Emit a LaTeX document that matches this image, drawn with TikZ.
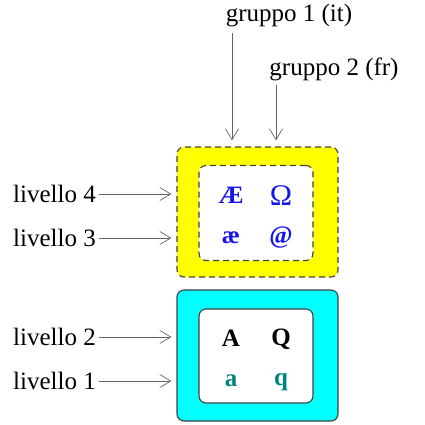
\documentclass[tikz,border=0pt]{standalone}
\usepackage{fontspec}
\setmainfont{Liberation Serif}
\usetikzlibrary{arrows.meta}
\definecolor{myblue}{RGB}{20,20,240}
\definecolor{myteal}{RGB}{0,130,130}
\definecolor{mycyan}{RGB}{0,255,255}
\definecolor{myyellow}{RGB}{255,255,0}
\definecolor{linegray}{RGB}{100,100,100}
\begin{document}
\begin{tikzpicture}[x=1pt,y=-1pt,
  lbl/.style={inner sep=0pt,font=\fontsize{25}{30}\selectfont},
  glyph/.style={inner sep=0pt,font=\fontsize{25}{30}\selectfont\bfseries},
  outerbox/.style={draw=black!75,line width=1.1pt,rounded corners=7pt,minimum width=161pt,minimum height=130pt,inner sep=0pt},
  innerbox/.style={draw=black!75,line width=1.1pt,fill=white,rounded corners=7pt,minimum width=114pt,minimum height=95pt,inner sep=0pt},
  dashbox/.style={dash pattern=on 6pt off 4pt},
  pointer/.style={draw=linegray,line width=0.7pt,-{Straight Barb[length=11pt,width=13pt,line width=0.7pt]}}
]
\useasboundingbox (0,0) rectangle (425,424);
% boxes
\node[outerbox,dashbox,fill=myyellow] (yo) at (257.5,212) {};
\node[innerbox,dashbox] (yi) at (256,213) {};
\node[outerbox,fill=mycyan,minimum height=131pt] (co) at (257.5,355.5) {};
\node[innerbox,minimum height=94pt] (ci) at (256,356) {};
% glyphs
\node[glyph,text=myblue] (AE) at (231,195) {Æ};
\node[lbl,text=myblue,font=\fontsize{30}{32}\selectfont] (Om) at (281,196) {Ω};
\node[glyph,text=myblue] (ae) at (231,238) {æ};
\node[glyph,text=myblue] (at) at (281,238) {@};
\node[glyph] (A) at (231,338) {A};
\node[glyph] (Q) at (281,339) {Q};
\node[glyph,text=myteal] (a) at (231,381) {a};
\node[glyph,text=myteal] (q) at (281,382) {q};
% labels
\node[lbl,anchor=east] (l4) at (96,194) {livello 4};
\node[lbl,anchor=east] (l3) at (96,238) {livello 3};
\node[lbl,anchor=east] (l2) at (96,337) {livello 2};
\node[lbl,anchor=east] (l1) at (96,381) {livello 1};
\node[lbl] (g1) at (289,16) {gruppo 1 (it)};
\node[lbl] (g2) at (334,69) {gruppo 2 (fr)};
% arrows
\draw[pointer,shorten <=3pt,shorten >=5pt] (l4.east) -- (l4.east -| yo.west);
\draw[pointer,shorten <=3pt,shorten >=5pt] (l3.east) -- (l3.east -| yo.west);
\draw[pointer,shorten <=3pt,shorten >=5pt] (l2.east) -- (l2.east -| co.west);
\draw[pointer,shorten <=3pt,shorten >=5pt] (l1.east) -- (l1.east -| co.west);
\coordinate (g1s) at (232,33);
\coordinate (g2s) at (276,85);
\draw[pointer,shorten >=6pt] (g1s) -- (g1s |- yo.north);
\draw[pointer,shorten >=6pt] (g2s) -- (g2s |- yo.north);
\end{tikzpicture}
\end{document}
